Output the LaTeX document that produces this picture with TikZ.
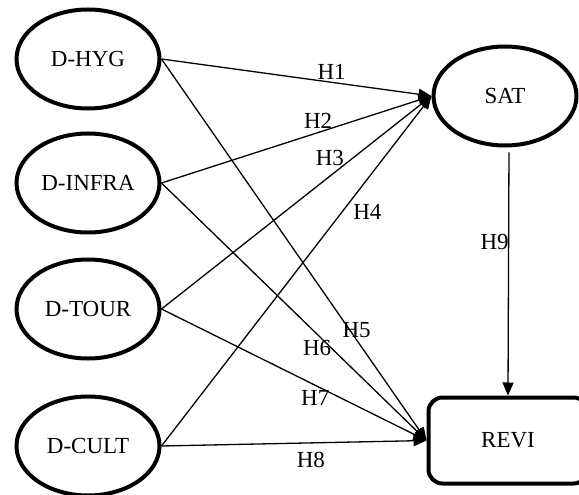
\documentclass[tikz,border=0pt]{standalone}
\usepackage{fontspec}
\setmainfont{Liberation Serif}
\usetikzlibrary{arrows.meta,shapes,positioning}
\tikzstyle{construct} = [ellipse, draw=black, line width=4pt, minimum width=143pt, minimum height=99pt, font=\fontsize{23}{27}\selectfont]
\tikzstyle{outcome} = [rectangle, rounded corners=14pt, draw=black, line width=4pt, minimum width=159pt, minimum height=86pt, font=\fontsize{23}{27}\selectfont]
\tikzstyle{hypo} = [line width=1.3pt, -{Triangle[length=13pt,width=11pt]}]
\tikzstyle{hlabel} = [font=\fontsize{23}{27}\selectfont, inner sep=0pt]

\begin{document}
\begin{tikzpicture}[x=1pt, y=-1pt]
\useasboundingbox (0,0) rectangle (579,495);
% Exogenous constructs
\node (hyg) [construct] at (88,59) {D-HYG};
\node (infra) [construct] at (88,183) {D-INFRA};
\node (tour) [construct] at (88,309) {D-TOUR};
\node (cult) [construct] at (88,446) {D-CULT};

% Endogenous constructs
\node (sat) [construct] at (505,96) {SAT};
\node (revi) [outcome] at (508,440.5) {REVI};

% Paths to SAT
\draw[hypo] (hyg.east) -- node[hlabel, pos=0.63, yshift=10pt] {H1} (sat.west);
\draw[hypo] (infra.east) -- node[hlabel, pos=0.58, yshift=12pt] {H2} (sat.west);
\draw[hypo] (tour.east) -- node[hlabel, pos=0.62, xshift=1pt, yshift=19pt] {H3} (sat.west);
\draw[hypo] (cult.east) -- node[hlabel, pos=0.67, xshift=25pt] {H4} (sat.west);

% Paths to REVI
\draw[hypo] (hyg.east) -- node[hlabel, pos=0.71, xshift=7pt] {H5} (revi.west);
\draw[hypo] (infra.east) -- node[hlabel, pos=0.587, yshift=-14pt] {H6} (revi.west);
\draw[hypo] (tour.east) -- node[hlabel, pos=0.58, yshift=-12.5pt] {H7} (revi.west);
\draw[hypo] (cult.east) -- node[hlabel, pos=0.56, xshift=1pt, yshift=-17pt] {H8} (revi.west);

% SAT to REVI
\draw[hypo, shorten <=5pt] ([xshift=4pt]sat.south) -- node[hlabel, pos=0.38, xshift=-14pt] {H9} (revi.north);
\end{tikzpicture}
\end{document}
